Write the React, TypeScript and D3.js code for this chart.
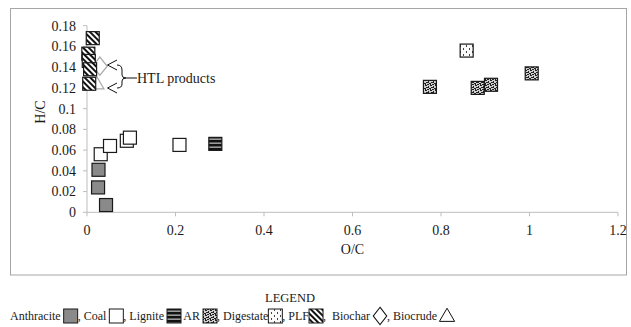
import React, { useEffect, useRef } from 'react';
import * as d3 from 'd3';

const W = 631;
const H = 327;

// O/C, H/C pairs
const anthracite = [[0.026, 0.041], [0.025, 0.024], [0.043, 0.007]];
const coal = [[0.031, 0.056], [0.052, 0.064], [0.09, 0.069], [0.097, 0.072], [0.209, 0.065]];
const lignite = [[0.29, 0.066]];
const ar = [[0.775, 0.121], [0.883, 0.12], [0.913, 0.123], [1.005, 0.134]];
const digestate = [[0.858, 0.156]];
const plf = [[0.013, 0.168], [0.003, 0.153], [0.004, 0.146], [0.007, 0.138], [0.005, 0.124]];
const biochar = [[0.029, 0.141]];
const biocrude = [[0.022, 0.123]];

const xTicks = [0, 0.2, 0.4, 0.6, 0.8, 1, 1.2];
const yTicks = [0, 0.02, 0.04, 0.06, 0.08, 0.1, 0.12, 0.14, 0.16, 0.18];

const legendItems = [
  { label: 'Anthracite ', mark: 'anthracite' },
  { label: ', Coal ', mark: 'coal' },
  { label: ', Lignite ', mark: 'lignite' },
  { label: ' AR ', mark: 'ar' },
  { label: ', Digestate', mark: 'digestate' },
  { label: ', PLF', mark: 'plf' },
  { label: ',  Biochar ', mark: 'biochar' },
  { label: ', Biocrude ', mark: 'biocrude' },
];

const FONT = 'Liberation Serif, Times New Roman, serif';
const fills = {
  anthracite: '#8a8a8a',
  coal: '#ffffff',
  lignite: 'url(#pat-lignite)',
  ar: 'url(#pat-ar)',
  digestate: 'url(#pat-digestate)',
  plf: 'url(#pat-plf)',
};

const App = () => {
  const svgRef = useRef(null);

  useEffect(() => {
    const svg = d3.select(svgRef.current);
    svg.selectAll('*').remove();

    const x = d3.scaleLinear().domain([0, 1.2]).range([87, 618]);
    const y = d3.scaleLinear().domain([0, 0.18]).range([212.3, 25.7]);

    // patterns
    const defs = svg.append('defs');
    const lig = defs.append('pattern').attr('id', 'pat-lignite')
      .attr('patternUnits', 'userSpaceOnUse').attr('width', 4).attr('height', 4);
    lig.append('rect').attr('width', 4).attr('height', 4).attr('fill', '#9a9a9a');
    lig.append('rect').attr('width', 4).attr('height', 2.4).attr('fill', '#111');

    const arp = defs.append('pattern').attr('id', 'pat-ar')
      .attr('patternUnits', 'userSpaceOnUse').attr('width', 5).attr('height', 5);
    arp.append('rect').attr('width', 5).attr('height', 5).attr('fill', '#d0d0d0');
    [[0, 0, 2, 1], [3, 1, 1, 2], [1, 2, 2, 1], [0, 3, 1, 2], [2, 4, 2, 1], [4, 3, 1, 1]].forEach(([a, b, c, d]) => {
      arp.append('rect').attr('x', a).attr('y', b).attr('width', c).attr('height', d).attr('fill', '#222');
    });

    const dig = defs.append('pattern').attr('id', 'pat-digestate')
      .attr('patternUnits', 'userSpaceOnUse').attr('width', 6).attr('height', 6);
    dig.append('rect').attr('width', 6).attr('height', 6).attr('fill', '#fafafa');
    dig.append('rect').attr('x', 1).attr('y', 0).attr('width', 1).attr('height', 2).attr('fill', '#444');
    dig.append('rect').attr('x', 4).attr('y', 3).attr('width', 1).attr('height', 2).attr('fill', '#444');

    const plfp = defs.append('pattern').attr('id', 'pat-plf')
      .attr('patternUnits', 'userSpaceOnUse').attr('width', 4).attr('height', 4)
      .attr('patternTransform', 'rotate(-45)');
    plfp.append('rect').attr('width', 4).attr('height', 4).attr('fill', '#ffffff');
    plfp.append('rect').attr('width', 2).attr('height', 4).attr('fill', '#111');

    const txt = (sel, size) => sel.style('font-family', FONT).style('font-size', `${size}px`).attr('fill', '#1a1a1a');

    // outer frame
    svg.append('rect').attr('x', 10.5).attr('y', 8.5).attr('width', 616).attr('height', 266.5)
      .attr('fill', 'white').attr('stroke', '#a6a6a6').attr('stroke-width', 1);

    const axisColor = '#bdbdbd';
    // y axis
    svg.append('line').attr('x1', x(0)).attr('x2', x(0)).attr('y1', y(0.18)).attr('y2', y(0))
      .attr('stroke', axisColor);
    svg.selectAll('.ytick').data(yTicks).enter().append('line')
      .attr('x1', x(0) - 4).attr('x2', x(0)).attr('y1', (d) => y(d)).attr('y2', (d) => y(d))
      .attr('stroke', axisColor);
    txt(svg.selectAll('.ylab').data(yTicks).enter().append('text')
      .attr('x', 76).attr('y', (d) => y(d)).attr('dy', '0.35em').attr('text-anchor', 'end'), 14)
      .text((d) => String(+d.toFixed(2)));

    // x axis
    svg.append('line').attr('x1', x(0)).attr('x2', x(1.2)).attr('y1', y(0)).attr('y2', y(0))
      .attr('stroke', axisColor);
    svg.selectAll('.xtick').data(xTicks).enter().append('line')
      .attr('x1', (d) => x(d)).attr('x2', (d) => x(d)).attr('y1', y(0)).attr('y2', y(0) + 4)
      .attr('stroke', axisColor);
    txt(svg.selectAll('.xlab').data(xTicks).enter().append('text')
      .attr('x', (d) => x(d)).attr('y', 230).attr('dy', '0.35em').attr('text-anchor', 'middle'), 14)
      .text((d) => String(+d.toFixed(1)));

    txt(svg.append('text').attr('x', (x(0) + x(1.2)) / 2).attr('y', 249).attr('dy', '0.35em')
      .attr('text-anchor', 'middle'), 14).text('O/C');
    txt(svg.append('text').attr('transform', 'translate(40,112) rotate(-90)').attr('dy', '0.35em')
      .attr('text-anchor', 'middle'), 14).text('H/C');

    const S = 13;
    const square = (data, key) => {
      svg.append('g').selectAll('rect').data(data).enter().append('rect')
        .attr('x', (d) => x(d[0]) - S / 2).attr('y', (d) => y(d[1]) - S / 2)
        .attr('width', S).attr('height', S)
        .attr('fill', fills[key]).attr('stroke', '#1a1a1a').attr('stroke-width', 1.2);
    };

    // faded biochar / biocrude behind
    svg.append('g').selectAll('path').data(biochar).enter().append('path')
      .attr('d', d3.symbol(d3.symbolDiamond, 130)())
      .attr('transform', (d) => `translate(${x(d[0])},${y(d[1])}) scale(1.2,0.85)`)
      .attr('fill', 'none').attr('stroke', '#a8a8a8').attr('stroke-width', 1.2);
    svg.append('g').selectAll('path').data(biocrude).enter().append('path')
      .attr('d', d3.symbol(d3.symbolTriangle, 90)())
      .attr('transform', (d) => `translate(${x(d[0])},${y(d[1])})`)
      .attr('fill', 'none').attr('stroke', '#a8a8a8').attr('stroke-width', 1.2);

    square(anthracite, 'anthracite');
    square(coal, 'coal');
    square(lignite, 'lignite');
    square(ar, 'ar');
    square(digestate, 'digestate');
    square(plf, 'plf');

    // HTL products annotation
    const ann = svg.append('g').attr('fill', 'none').attr('stroke', '#111').attr('stroke-width', 1);
    ann.append('path').attr('d', 'M117,60 L107.5,65 L117,70');
    ann.append('path').attr('d', 'M117,83 L107.5,88 L117,93');
    ann.append('path').attr('d', 'M117,65 Q122,65 122,70 L122,75 Q122,78 126,78 Q122,78 122,81 L122,84 Q122,88 117,88');
    ann.append('path').attr('d', 'M126,78 L137,78');
    txt(svg.append('text').attr('x', 137).attr('y', 78).attr('dy', '0.35em'), 14).text('HTL products');

    // legend
    txt(svg.append('text').attr('x', 290).attr('y', 302).attr('text-anchor', 'middle'), 12.5).text('LEGEND');
    let cx = 10;
    const ly = 320;
    legendItems.forEach((it) => {
      const t = txt(svg.append('text').attr('x', cx).attr('y', ly).style('white-space', 'pre'), 12)
        .text(it.label);
      cx += t.node().getComputedTextLength();
      const bs = 14;
      if (it.mark === 'biochar') {
        svg.append('path').attr('d', d3.symbol(d3.symbolDiamond, 120)())
          .attr('transform', `translate(${cx + 7},${ly - 4}) scale(1.15,0.85)`)
          .attr('fill', 'none').attr('stroke', '#111').attr('stroke-width', 1);
        cx += 14;
      } else if (it.mark === 'biocrude') {
        svg.append('path').attr('d', d3.symbol(d3.symbolTriangle, 100)())
          .attr('transform', `translate(${cx + 7},${ly - 3})`)
          .attr('fill', 'none').attr('stroke', '#111').attr('stroke-width', 1);
        cx += 14;
      } else {
        svg.append('rect').attr('x', cx).attr('y', ly - 11).attr('width', bs).attr('height', bs)
          .attr('fill', fills[it.mark]).attr('stroke', '#1a1a1a').attr('stroke-width', 1);
        cx += bs;
      }
    });
  }, []);

  return (
    <svg ref={svgRef} width={W} height={H}
      style={{ position: 'absolute', left: 0, top: 0, background: 'white' }}></svg>
  );
};

export default App;
